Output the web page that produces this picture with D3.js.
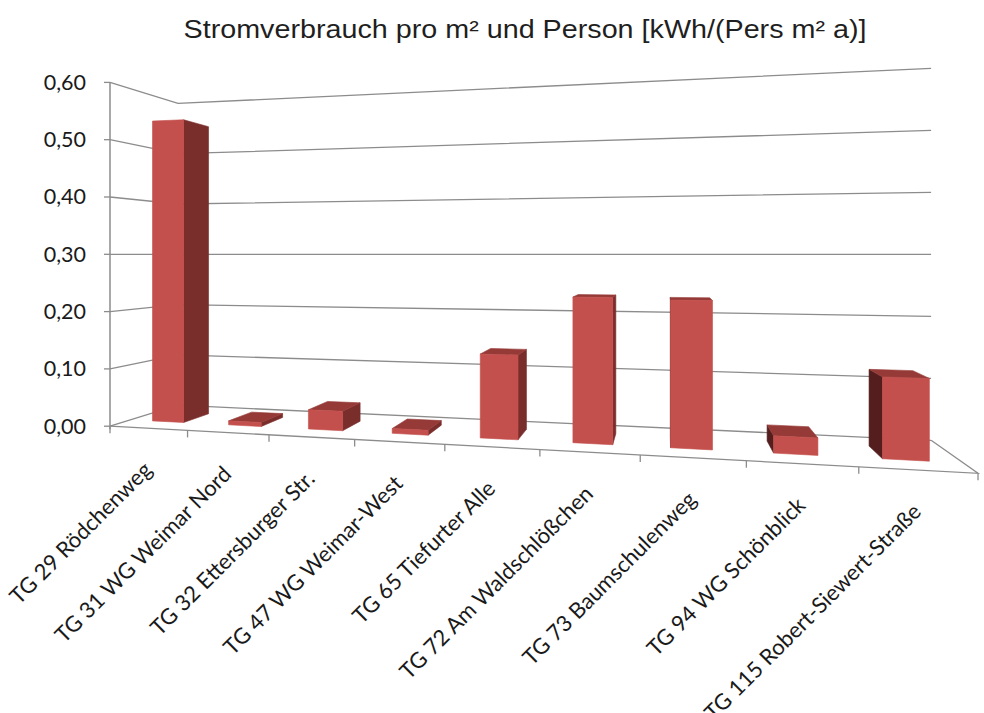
<!DOCTYPE html>
<html>
<head>
<meta charset="utf-8">
<script src="https://cdn.jsdelivr.net/npm/d3@7"></script>
<style>
  html, body { margin: 0; padding: 0; background: #ffffff; }
  svg { display: block; }
</style>
</head>
<body>
<svg id="chart" width="984" height="713"></svg>
<script>
// ---------- data ----------
const categories = [
  "TG 29 Rödchenweg",
  "TG 31 WG Weimar Nord",
  "TG 32 Ettersburger Str.",
  "TG 47 WG Weimar-West",
  "TG 65 Tiefurter Alle",
  "TG 72 Am Waldschlößchen",
  "TG 73 Baumschulenweg",
  "TG 94 WG Schönblick",
  "TG 115 Robert-Siewert-Straße"
];
const values = [0.54, 0.007, 0.033, 0.008, 0.137, 0.232, 0.229, 0.026, 0.12];
const yTicks = [0, 0.1, 0.2, 0.3, 0.4, 0.5, 0.6];
const title = "Stromverbrauch pro m² und Person [kWh/(Pers m² a)]";

// ---------- layout / camera ----------
const svg = d3.select("#chart");

// perspective camera (horizontal view axis, rotated about vertical axis)
const horizonY = 254.3;   // screen y of eye level
const eyeH = 3;           // eye height in world units (value 0.30)
// depth term: 1/scale = a0 + au*u + av*v
const a0 = 0.017452, au = -0.003753, av = 0.002429;
// horizontal term: x/scale = n0 + nu*u + nv*v
const n0 = 1.9197, nu = 11.478, nv = 1.6191;

function proj(u, v, h) {
  const s = 1 / (a0 + au * u + av * v);
  return [(n0 + nu * u + nv * v) * s, horizonY - (h - eyeH) * s];
}

// scales
const yWorld = d3.scaleLinear().domain([0, 0.6]).range([0, 6]);
const xSlot = d3.scaleBand().domain(categories).range([0, 1]).padding(0);
const xBar = d3.scaleBand().domain(categories).range([0, 1])
  .paddingInner(0.586).paddingOuter(0.293);
const barDepth = [0.28, 0.68];

const gridColor = "#8c8c8c";
const line = d3.line();

// ---------- walls gridlines ----------
const gGrid = svg.append("g");
yTicks.forEach(t => {
  const h = yWorld(t);
  gGrid.append("path")
    .attr("d", line([proj(0, 0, h), proj(0, 1, h), proj(1, 1, h)]))
    .attr("fill", "none").attr("stroke", gridColor).attr("stroke-width", 1.3);
});

// floor outline (front and right edges)
gGrid.append("path")
  .attr("d", line([proj(0, 0, 0), proj(1, 0, 0), proj(1, 1, 0)]))
  .attr("fill", "none").attr("stroke", gridColor).attr("stroke-width", 1.3);

// category ticks on front floor edge
const boundaries = categories.map(c => xSlot(c)).concat([1]);
boundaries.forEach(u => {
  const p = proj(u, 0, 0);
  gGrid.append("line")
    .attr("x1", p[0]).attr("x2", p[0]).attr("y1", p[1]).attr("y2", p[1] + 7)
    .attr("stroke", gridColor).attr("stroke-width", 1.3);
});

// value axis
const pa0 = proj(0, 0, yWorld(0)), pa1 = proj(0, 0, yWorld(0.6));
gGrid.append("line")
  .attr("x1", pa0[0]).attr("x2", pa1[0]).attr("y1", pa0[1] + 3).attr("y2", pa1[1])
  .attr("stroke", gridColor).attr("stroke-width", 1.5);

const fmt = d3.formatLocale({ decimal: ",", thousands: ".", grouping: [3], currency: ["", "€"] }).format(".2f");
const gY = svg.append("g");
yTicks.forEach(t => {
  const p = proj(0, 0, yWorld(t));
  gY.append("line")
    .attr("x1", p[0] - 6).attr("x2", p[0]).attr("y1", p[1]).attr("y2", p[1])
    .attr("stroke", gridColor).attr("stroke-width", 1.3);
  gY.append("text")
    .attr("x", 86).attr("y", p[1] + 7.5)
    .attr("text-anchor", "end")
    .attr("font-family", "Lato, 'Open Sans', sans-serif")
    .attr("font-size", 21.5)
    .attr("fill", "#1a1a1a")
    .text(fmt(t));
});

// ---------- bars ----------
const colFront = "#c4504d", colTop = "#963a37", colRight = "#7a2e2c", colLeft = "#531e1d";
const gBars = svg.append("g");
categories.forEach((c, i) => {
  const u0 = xBar(c), u1 = u0 + xBar.bandwidth();
  const v0 = barDepth[0], v1 = barDepth[1];
  const h0 = yWorld(0), h1 = yWorld(values[i]);
  const P = (u, v, h) => proj(u, v, h);
  const faces = [];
  if (P(u0, v1, h1)[0] < P(u0, v0, h1)[0])
    faces.push({ pts: [P(u0, v0, h0), P(u0, v1, h0), P(u0, v1, h1), P(u0, v0, h1)], fill: colLeft });
  if (P(u1, v1, h1)[0] > P(u1, v0, h1)[0])
    faces.push({ pts: [P(u1, v0, h0), P(u1, v1, h0), P(u1, v1, h1), P(u1, v0, h1)], fill: colRight });
  if (P(u0, v1, h1)[1] < P(u0, v0, h1)[1])
    faces.push({ pts: [P(u0, v0, h1), P(u1, v0, h1), P(u1, v1, h1), P(u0, v1, h1)], fill: colTop });
  faces.push({ pts: [P(u0, v0, h0), P(u1, v0, h0), P(u1, v0, h1), P(u0, v0, h1)], fill: colFront });
  faces.forEach(f => {
    gBars.append("path")
      .attr("d", line(f.pts) + "Z")
      .attr("fill", f.fill)
      .attr("stroke", f.fill).attr("stroke-width", 0.6).attr("stroke-linejoin", "round");
  });
});

// ---------- category labels ----------
const gX = svg.append("g");
categories.forEach(c => {
  const u = xSlot(c) + xSlot.bandwidth() / 2;
  const p = proj(u, 0, 0);
  gX.append("text")
    .attr("transform", `translate(${p[0] + 5},${p[1] + 43}) rotate(-45)`)
    .attr("text-anchor", "end")
    .attr("font-family", "Lato, 'Open Sans', sans-serif")
    .attr("font-size", 22)
    .attr("fill", "#1a1a1a")
    .text(c);
});

// ---------- title ----------
svg.append("text")
  .attr("x", 525).attr("y", 38)
  .attr("text-anchor", "middle")
  .attr("font-family", "'Liberation Sans', Arial, sans-serif")
  .attr("font-size", 25)
  .attr("textLength", 683)
  .attr("lengthAdjust", "spacingAndGlyphs")
  .attr("fill", "#1f1f1f")
  .text(title);
</script>
</body>
</html>
